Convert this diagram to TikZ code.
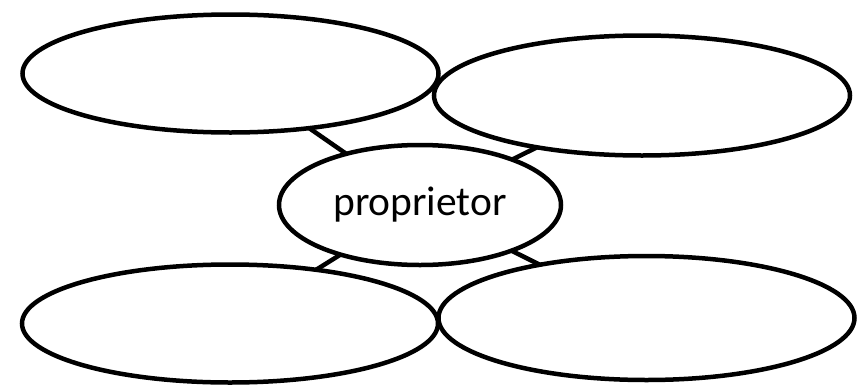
\documentclass[tikz,border=0pt]{standalone}
\usepackage{fontspec}
\setmainfont{Carlito}
\usetikzlibrary{shapes.geometric}
\begin{document}
\begin{tikzpicture}[x=1pt,y=-1pt,
  oval/.style={ellipse,draw=black,line width=4.5pt,inner sep=0pt,outer sep=0pt},
  link/.style={draw=black,line width=4.5pt}]
\useasboundingbox (0,0) rectangle (867,386);
\node[oval,minimum width=416pt,minimum height=118pt] (tl) at (230.5,73.5) {};
\node[oval,minimum width=416pt,minimum height=120pt] (tr) at (642,95.5) {};
\node[oval,minimum width=416pt,minimum height=118pt] (bl) at (230,323.5) {};
\node[oval,minimum width=416pt,minimum height=124pt] (br) at (646.5,318) {};
\node[oval,minimum width=282pt,minimum height=120pt,
  font=\fontsize{41.5}{50}\selectfont] (c) at (420,205) {\raisebox{-2pt}{proprietor}};
\draw[link] (c) -- (tl);
\draw[link] (c) -- (tr);
\draw[link] (c) -- (bl);
\draw[link] (c) -- (br);
\end{tikzpicture}
\end{document}
